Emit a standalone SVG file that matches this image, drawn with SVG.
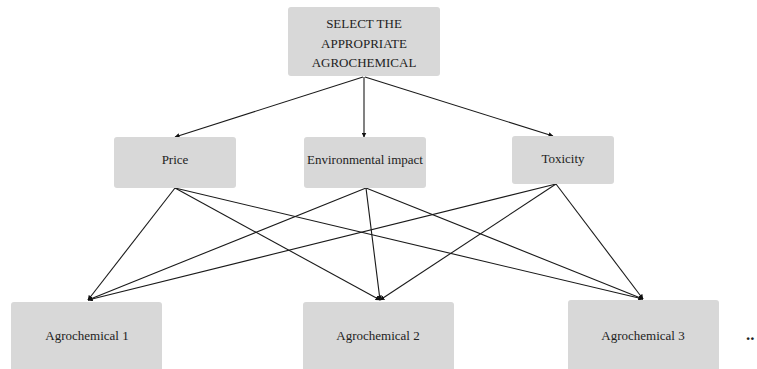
<svg xmlns="http://www.w3.org/2000/svg" width="757" height="369" viewBox="0 0 757 369">
<style>
.box{fill:#d8d8d8;stroke:none}
.lbl{font-family:"Liberation Serif",serif;font-size:13px;fill:#222;text-anchor:middle}
.edge{stroke:#1a1a1a;stroke-width:1.1;fill:none;marker-end:url(#ah)}
</style>
<defs>
<marker id="ah" viewBox="0 0 10 10" refX="9" refY="5" markerWidth="5" markerHeight="5" orient="auto" markerUnits="userSpaceOnUse">
<path d="M0,0 L10,5 L0,10 z" fill="#111"/>
</marker>
</defs>
<rect width="757" height="369" fill="#fff"/>
<g id="connectors">
<line class="edge" x1="363" y1="77" x2="175" y2="137"/>
<line class="edge" x1="364" y1="77" x2="364" y2="137"/>
<line class="edge" x1="365" y1="77" x2="553" y2="136"/>
<line class="edge" x1="175" y1="188" x2="88" y2="300"/>
<line class="edge" x1="175" y1="188" x2="380" y2="300"/>
<line class="edge" x1="175" y1="188" x2="643" y2="299"/>
<line class="edge" x1="366" y1="188" x2="88" y2="300"/>
<line class="edge" x1="366" y1="188" x2="380" y2="300"/>
<line class="edge" x1="366" y1="188" x2="643" y2="299"/>
<line class="edge" x1="556" y1="184" x2="88" y2="300"/>
<line class="edge" x1="556" y1="184" x2="380" y2="300"/>
<line class="edge" x1="556" y1="184" x2="643" y2="299"/>
</g>
<g id="select">
<rect class="box" x="288" y="7" width="152" height="69" rx="3"/>
<text class="lbl" x="364" y="28">SELECT THE</text>
<text class="lbl" x="364" y="48">APPROPRIATE</text>
<text class="lbl" x="364" y="67">AGROCHEMICAL</text>
</g>
<g id="price">
<rect class="box" x="114" y="137" width="122" height="51" rx="3"/>
<text class="lbl" x="175" y="164">Price</text>
</g>
<g id="env">
<rect class="box" x="304" y="137" width="122" height="51" rx="3"/>
<text class="lbl" x="365" y="164">Environmental impact</text>
</g>
<g id="tox">
<rect class="box" x="512" y="136" width="102" height="48" rx="3"/>
<text class="lbl" x="563" y="163">Toxicity</text>
</g>
<g id="agro1">
<rect class="box" x="11" y="302" width="151" height="72" rx="3"/>
<text class="lbl" x="87" y="340">Agrochemical 1</text>
</g>
<g id="agro2">
<rect class="box" x="303" y="302" width="151" height="72" rx="3"/>
<text class="lbl" x="378" y="340">Agrochemical 2</text>
</g>
<g id="agro3">
<rect class="box" x="568" y="300" width="151" height="74" rx="3"/>
<text class="lbl" x="643" y="340">Agrochemical 3</text>
</g>
<text x="746" y="340" font-family="Liberation Serif,serif" font-size="17" font-weight="bold" fill="#222">..</text>
</svg>
